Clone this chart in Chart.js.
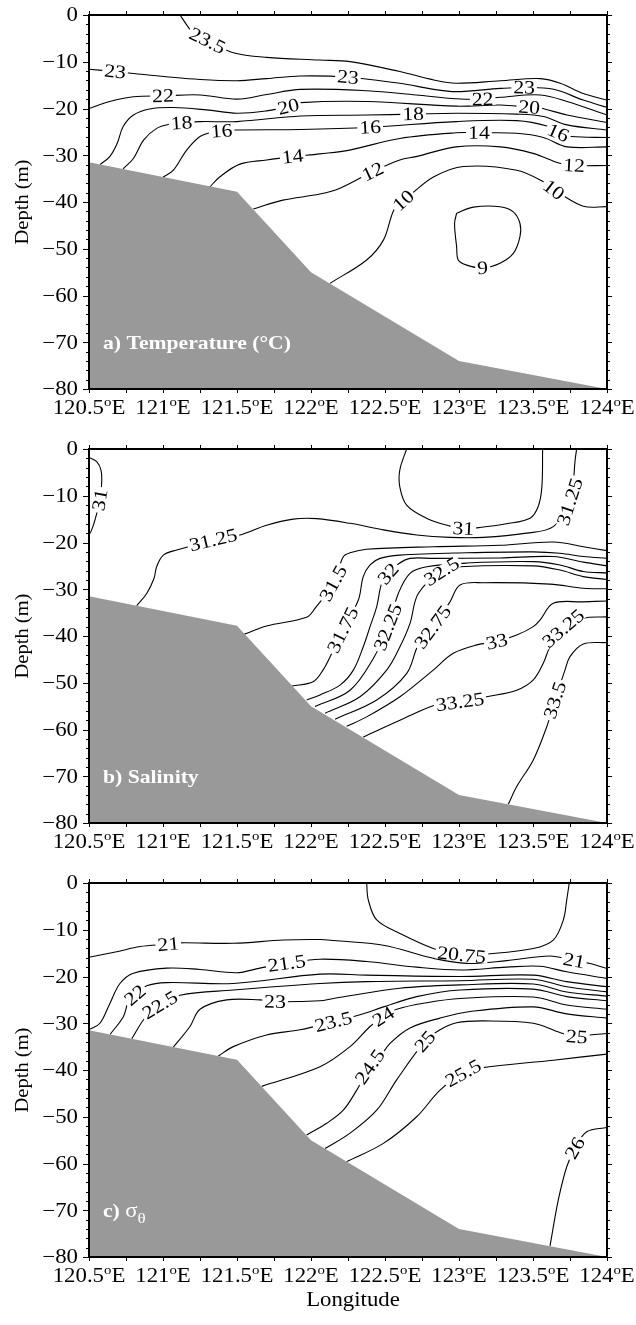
<!DOCTYPE html>
<html>
<head>
<meta charset="utf-8">
<script src="https://cdn.jsdelivr.net/npm/chart.js@4.4.0/dist/chart.umd.min.js"></script>
<style>
  html, body { margin: 0; padding: 0; background: #fff; }
  #wrap { position: relative; width: 636px; height: 1325px; }
  canvas { position: absolute; left: 0; }
</style>
</head>
<body>
<div id="wrap">
  <canvas id="panelA" width="636" height="430" style="top:0px"></canvas>
  <canvas id="panelB" width="636" height="430" style="top:434px"></canvas>
  <canvas id="panelC" width="636" height="457" style="top:868px"></canvas>
</div>
<script>
// ---- Axis ticks ----
const lonTicks = [120.5, 121, 121.5, 122, 122.5, 123, 123.5, 124];
const depthTicks = [0, -10, -20, -30, -40, -50, -60, -70, -80];

// ---- Sea-floor profile along the section (lon °E, depth m) ----
const bottomLon = [120.5, 121.5, 122.0, 123.0, 124.0];
const bottomDepth = [-31.5, -37.8, -55.0, -74.0, -80.0];

// ---- a) Temperature contours [lon, depth] ----
const T23_5 = [[121.115,0],[121.16,-2.1],[121.205,-3.9],[121.30,-5.5],[121.475,-8.06],[121.70,-9.06],[122.06,-9.63],[122.264,-9.98],[122.6,-12.1],[122.83,-13.9],[122.98,-14.6],[123.28,-14.05],[123.55,-13.6],[123.684,-14.6],[123.84,-16.8],[124.0,-18.2]];
const T23 = [[120.5,-11.6],[120.676,-12.1],[120.8,-12.5],[121.02,-13.2],[121.25,-13.8],[121.5,-14.05],[121.7,-13.6],[121.93,-13.05],[122.25,-13.3],[122.6,-14.6],[122.83,-15.9],[122.98,-16.4],[123.28,-15.7],[123.44,-15.5],[123.64,-15.9],[123.84,-18.2],[124.0,-19.75]];
const T22 = [[120.5,-20.0],[120.64,-18.5],[120.8,-17.5],[121.0,-17.3],[121.25,-17.1],[121.5,-18.0],[121.7,-17.0],[121.93,-15.9],[122.38,-16.2],[122.71,-17.1],[122.98,-17.9],[123.16,-18.0],[123.28,-17.6],[123.55,-17.1],[123.73,-18.5],[124.0,-21.4]];
const T20 = [[120.574,-32.0],[120.64,-30.3],[120.69,-27.5],[120.73,-23.9],[120.80,-21.4],[120.91,-20.1],[121.07,-19.8],[121.295,-20.3],[121.5,-21.0],[121.70,-20.5],[121.847,-19.6],[121.93,-18.75],[122.38,-18.5],[122.98,-19.5],[123.28,-19.25],[123.475,-19.75],[123.55,-19.9],[123.73,-21.4],[124.0,-23.0]];
const T18 = [[120.73,-32.9],[120.80,-30.7],[120.87,-26.7],[120.96,-24.2],[121.05,-23.3],[121.126,-23.1],[121.25,-22.8],[121.5,-22.8],[121.93,-21.6],[122.38,-21.4],[122.69,-21.2],[122.98,-21.0],[123.39,-21.2],[123.57,-21.7],[123.73,-23.5],[124.0,-24.6]];
const T16 = [[121.0,-34.7],[121.07,-33.2],[121.16,-28.9],[121.25,-26.0],[121.34,-25.0],[121.396,-24.8],[121.5,-24.6],[121.93,-24.5],[122.40,-24.0],[122.98,-22.8],[123.39,-22.6],[123.60,-23.8],[123.67,-25.2],[123.76,-26.0],[124.0,-26.2]];
const T14 = [[121.31,-37.0],[121.385,-34.6],[121.52,-31.9],[121.70,-31.0],[121.876,-30.3],[122.06,-29.7],[122.26,-28.9],[122.6,-26.4],[122.98,-25.2],[123.135,-25.2],[123.39,-25.3],[123.57,-26.2],[123.73,-28.2],[124.0,-28.2]];
const T12 = [[121.61,-41.5],[121.81,-39.6],[122.06,-38.3],[122.2,-37.0],[122.417,-33.5],[122.6,-31.0],[122.71,-30.3],[122.98,-28.2],[123.28,-28.2],[123.5,-29.6],[123.68,-31.7],[123.777,-32.2],[124.0,-32.2]];
const T10 = [[122.128,-57.4],[122.376,-52.4],[122.49,-48.1],[122.56,-41.7],[122.624,-39.7],[122.67,-38.5],[122.83,-34.6],[123.03,-32.4],[123.39,-33.2],[123.59,-36.0],[123.64,-37.4],[123.68,-38.2],[123.84,-40.9],[124.0,-41.0]];
const T9 = [[122.984,-42.4],[123.097,-41.1],[123.277,-41.0],[123.367,-42.1],[123.412,-44.6],[123.412,-47.4],[123.367,-51.0],[123.277,-53.1],[123.16,-54.1],[123.052,-53.5],[122.995,-52.4],[122.984,-49.6],[122.97,-44.6],[122.984,-42.4]];
const tempLevels = ['23.5','23','22','20','18','16','14','12','10','9'];
const tempPaths = [T23_5, T23, T22, T20, T18, T16, T14, T12, T10, T9];
// [contour index, lon, depth]
const tempLabelAt = [[0,121.30,-5.5],[1,120.676,-12.1],[1,122.25,-13.3],[1,123.44,-15.5],[2,121.0,-17.3],[2,123.16,-18.0],[3,121.847,-19.6],[3,123.475,-19.75],[4,121.126,-23.1],[4,122.69,-21.2],[5,121.396,-24.8],[5,122.40,-24.0],[5,123.67,-25.2],[6,121.876,-30.3],[6,123.135,-25.2],[7,122.417,-33.5],[7,123.777,-32.2],[8,122.624,-39.7],[8,123.64,-37.4],[9,123.16,-54.1]];

// ---- b) Salinity contours ----
const S31w = [[120.5,-1.8],[120.552,-2.7],[120.581,-4.5],[120.586,-7.0],[120.574,-10.9],[120.54,-15.2],[120.518,-17.3],[120.5,-18.4]];
const S31e = [[122.646,0],[122.6,-4.5],[122.6,-8.1],[122.646,-12.0],[122.78,-14.8],[122.94,-16.5],[123.029,-17.0],[123.14,-16.8],[123.32,-16.0],[123.48,-14.8],[123.535,-12.3],[123.56,-8.1],[123.565,0]];
const S31_25 = [[120.822,-33.5],[120.89,-30.9],[120.939,-27.7],[120.957,-25.2],[121.002,-22.7],[121.093,-21.6],[121.34,-19.5],[121.52,-18.4],[121.70,-16.3],[121.88,-15.0],[122.038,-14.9],[122.264,-15.9],[122.489,-17.3],[122.714,-18.4],[122.939,-18.9],[123.164,-18.9],[123.457,-18.0],[123.637,-16.6],[123.75,-11.3],[123.786,-2.0],[123.795,0]];
const S31_5 = [[121.55,-39.6],[121.70,-37.86],[121.97,-36.0],[122.027,-34.1],[122.151,-28.7],[122.218,-23.04],[122.264,-22.2],[122.376,-21.45],[122.826,-20.9],[123.277,-20.6],[123.637,-19.9],[123.84,-20.9],[124.0,-21.75]];
const S31_75 = [[121.872,-50.7],[122.014,-49.8],[122.081,-47.3],[122.142,-43.6],[122.216,-38.7],[122.32,-32.3],[122.353,-27.3],[122.399,-24.8],[122.466,-23.4],[122.601,-22.7],[123.052,-22.2],[123.502,-22.0],[123.682,-22.3],[123.84,-23.0],[124.0,-23.4]];
const S32 = [[121.971,-53.7],[122.061,-52.6],[122.196,-50.5],[122.286,-47.3],[122.353,-42.3],[122.399,-38.0],[122.444,-33.7],[122.478,-28.7],[122.522,-26.7],[122.59,-24.6],[122.669,-23.4],[122.826,-23.4],[123.277,-23.3],[123.637,-23.0],[123.84,-24.2],[124.0,-25.0]];
const S32_25 = [[122.027,-55.1],[122.264,-51.6],[122.421,-44.8],[122.52,-38.1],[122.59,-30.9],[122.669,-26.6],[122.782,-25.2],[123.052,-24.4],[123.502,-24.1],[123.682,-24.8],[123.84,-26.2],[124.0,-26.5]];
const S32_5 = [[122.095,-56.5],[122.331,-53.0],[122.511,-47.3],[122.601,-42.3],[122.669,-37.3],[122.725,-30.9],[122.883,-26.2],[123.007,-25.2],[123.502,-25.0],[123.682,-25.9],[123.84,-27.3],[124.0,-27.9]];
const S32_75 = [[122.162,-57.8],[122.444,-53.7],[122.647,-48.0],[122.725,-41.9],[122.824,-38.1],[122.939,-32.7],[123.007,-29.1],[123.164,-28.6],[123.615,-28.9],[123.84,-29.8],[124.0,-29.9]];
const S33 = [[122.241,-59.3],[122.376,-57.3],[122.601,-53.0],[122.826,-47.3],[122.961,-43.7],[123.12,-41.9],[123.255,-41.2],[123.39,-39.8],[123.502,-38.0],[123.547,-36.6],[123.637,-33.0],[123.84,-32.7],[124.0,-32.5]];
const S33_25 = [[122.353,-61.6],[122.601,-58.0],[122.872,-54.4],[123.007,-54.1],[123.187,-53.0],[123.39,-51.6],[123.502,-49.4],[123.57,-45.8],[123.615,-42.3],[123.705,-38.4],[123.84,-36.2],[124.0,-35.9]];
const S33_5 = [[123.333,-76.0],[123.39,-72.2],[123.502,-66.5],[123.593,-59.4],[123.649,-53.7],[123.716,-47.3],[123.75,-44.4],[123.84,-41.7],[124.0,-41.4]];
const salLevels = ['31','31','31.25','31.5','31.75','32','32.25','32.5','32.75','33','33.25','33.5'];
const salPaths = [S31w, S31e, S31_25, S31_5, S31_75, S32, S32_25, S32_5, S32_75, S33, S33_25, S33_5];
const salLabelAt = [[0,120.574,-10.9],[1,123.029,-17.0],[2,121.34,-19.5],[2,123.75,-11.3],[3,122.151,-28.7],[4,122.216,-38.7],[5,122.522,-26.7],[6,122.52,-38.1],[7,122.883,-26.2],[8,122.824,-38.1],[9,123.255,-41.2],[10,123.007,-54.1],[10,123.705,-38.4],[11,123.649,-53.7]];

// ---- c) Potential density anomaly contours ----
const D20_75 = [[122.376,0],[122.387,-3.6],[122.444,-7.9],[122.601,-10.8],[122.826,-14.0],[123.018,-15.4],[123.187,-15.2],[123.502,-14.0],[123.637,-12.2],[123.705,-7.9],[123.728,-3.6],[123.745,0]];
const D21 = [[120.5,-15.9],[120.687,-14.7],[120.845,-13.6],[121.036,-13.1],[121.115,-12.8],[121.475,-12.9],[121.813,-12.2],[122.061,-12.1],[122.151,-12.3],[122.489,-13.3],[122.826,-16.1],[123.052,-17.2],[123.322,-16.6],[123.615,-15.6],[123.777,-16.6],[123.885,-17.2],[124.0,-18.3]];
const D21_5 = [[120.5,-31.4],[120.574,-30.0],[120.642,-25.7],[120.709,-21.5],[120.8,-19.3],[121.025,-18.2],[121.25,-18.5],[121.498,-19.2],[121.655,-18.2],[121.836,-17.2],[122.061,-16.3],[122.376,-16.8],[122.714,-18.0],[123.007,-18.6],[123.322,-18.0],[123.547,-17.8],[123.728,-19.0],[124.0,-20.4]];
const D22 = [[120.642,-32.4],[120.732,-28.6],[120.766,-25.4],[120.811,-24.0],[120.89,-22.0],[121.025,-21.3],[121.475,-21.5],[122.061,-19.5],[122.376,-19.7],[123.007,-20.0],[123.502,-19.7],[123.728,-21.1],[124.0,-22.2]];
const D22_5 = [[120.789,-33.3],[120.867,-29.3],[120.912,-27.9],[120.98,-26.1],[121.115,-24.0],[121.475,-22.9],[122.061,-21.5],[122.376,-21.1],[123.007,-20.9],[123.502,-20.6],[123.728,-22.2],[124.0,-23.3]];
const D23 = [[121.07,-35.1],[121.182,-30.7],[121.25,-27.0],[121.43,-25.0],[121.655,-25.0],[121.757,-25.4],[122.061,-25.2],[122.151,-24.7],[122.601,-22.5],[123.007,-21.8],[123.502,-21.6],[123.728,-23.3],[124.0,-24.2]];
const D23_5 = [[121.374,-37.0],[121.475,-35.0],[121.70,-32.5],[121.926,-31.4],[122.151,-29.7],[122.331,-28.2],[122.489,-26.5],[122.714,-24.3],[123.007,-22.9],[123.502,-22.7],[123.728,-24.3],[124.0,-25.2]];
const D24 = [[121.667,-43.5],[122.061,-39.3],[122.264,-35.0],[122.399,-30.7],[122.489,-28.6],[122.579,-27.0],[122.782,-25.6],[123.007,-24.7],[123.502,-24.4],[123.728,-26.1],[124.0,-27.0]];
const D24_5 = [[121.971,-53.9],[122.106,-51.4],[122.218,-48.6],[122.309,-44.3],[122.399,-39.3],[122.466,-37.2],[122.534,-34.3],[122.669,-31.0],[122.872,-28.9],[123.074,-27.5],[123.502,-26.5],[123.728,-28.0],[124.0,-28.9]];
const D25 = [[122.095,-56.8],[122.264,-53.5],[122.444,-48.6],[122.579,-42.1],[122.77,-33.9],[122.872,-31.4],[122.984,-29.9],[123.164,-29.5],[123.502,-30.0],[123.682,-32.0],[123.795,-32.9],[123.885,-32.5],[124.0,-32.2]];
const D25_5 = [[122.241,-59.6],[122.489,-55.7],[122.714,-50.0],[122.872,-44.3],[123.029,-40.7],[123.142,-39.6],[123.637,-37.9],[124.0,-36.6]];
const D26 = [[123.615,-77.6],[123.671,-67.8],[123.728,-60.7],[123.784,-56.7],[123.863,-53.2],[124.0,-52.3]];
const denLevels = ['20.75','21','21.5','22','22.5','23','23.5','24','24.5','25','25.5','26'];
const denPaths = [D20_75, D21, D21_5, D22, D22_5, D23, D23_5, D24, D24_5, D25, D25_5, D26];
const denLabelAt = [[0,123.018,-15.4],[1,121.036,-13.1],[1,123.777,-16.6],[2,121.836,-17.2],[3,120.811,-24.0],[4,120.98,-26.1],[5,121.757,-25.4],[6,122.151,-29.7],[7,122.489,-28.6],[8,122.399,-39.3],[9,122.77,-33.9],[9,123.795,-32.9],[10,123.029,-40.7],[11,123.784,-56.7]];

// ---- drawing helpers ----
const SERIF = '"Liberation Serif", "Times New Roman", serif';
const SX = 1.14;            // horizontal stretch of the lettering

function textW(ctx, s) { return ctx.measureText(s).width * SX; }

function drawText(ctx, s, x, y, align) {
  const w = textW(ctx, s);
  let x0 = x;
  if (align === 'right') x0 = x - w;
  else if (align === 'center') x0 = x - w / 2;
  ctx.save();
  ctx.translate(x0, y);
  ctx.scale(SX, 1);
  ctx.textAlign = 'left';
  ctx.fillText(s, 0, 0);
  ctx.restore();
  return w;
}

function pathAngle(path, lon, dep, xs, ys) {
  const px = lon => xs.getPixelForValue(lon), py = d => ys.getPixelForValue(d);
  const tx = px(lon), ty = py(dep);
  let best = 0, bd = Infinity;
  path.forEach(([x, y], i) => {
    const dx = px(x) - tx, dy = py(y) - ty, d = dx * dx + dy * dy;
    if (d < bd) { bd = d; best = i; }
  });
  const a = path[Math.max(0, best - 1)], b = path[Math.min(path.length - 1, best + 1)];
  let ang = Math.atan2(py(b[1]) - py(a[1]), px(b[0]) - px(a[0]));
  if (ang > Math.PI / 2) ang -= Math.PI;
  if (ang < -Math.PI / 2) ang += Math.PI;
  return ang;
}

// contour labels with a white gap cut into the line
const contourLabels = {
  id: 'contourLabels',
  afterDatasetsDraw(chart, args, opts) {
    const { ctx, scales: { x, y } } = chart;
    ctx.save();
    ctx.font = '19px ' + SERIF;
    ctx.textBaseline = 'middle';
    opts.at.forEach(([k, lon, dep]) => {
      const s = opts.levels[k];
      const ang = pathAngle(opts.paths[k], lon, dep, x, y);
      const w = textW(ctx, s);
      ctx.save();
      ctx.translate(x.getPixelForValue(lon), y.getPixelForValue(dep));
      ctx.rotate(ang);
      ctx.fillStyle = '#fff';
      ctx.fillRect(-w / 2 - 2, -6, w + 4, 12);
      ctx.fillStyle = '#000';
      drawText(ctx, s, 0, 1, 'center');
      ctx.restore();
    });
    ctx.restore();
  }
};

// frame, ticks, tick labels, axis titles and panel caption
const sectionFrame = {
  id: 'sectionFrame',
  afterDraw(chart, args, opts) {
    const { ctx, chartArea: { left, right, top, bottom }, scales: { x, y } } = chart;
    ctx.save();
    ctx.strokeStyle = '#000';
    ctx.fillStyle = '#000';
    ctx.lineWidth = 1;
    ctx.beginPath();
    for (let d = 0; d >= -80; d -= 2) {
      const py = Math.round(y.getPixelForValue(d)) + 0.5;
      const major = d % 10 === 0;
      ctx.moveTo(left - (major ? 6 : 3), py); ctx.lineTo(left, py);
      ctx.moveTo(right, py); ctx.lineTo(right + (major ? 5 : 3), py);
    }
    for (let lon = 120.5; lon <= 124.001; lon += 0.25) {
      const px = Math.round(x.getPixelForValue(lon)) + 0.5;
      ctx.moveTo(px, top - 4); ctx.lineTo(px, top);
      ctx.moveTo(px, bottom); ctx.lineTo(px, bottom + 4);
    }
    ctx.stroke();
    ctx.lineWidth = 2;
    ctx.strokeRect(left, top, right - left, bottom - top);

    // depth tick labels
    ctx.font = '20px ' + SERIF;
    ctx.textBaseline = 'middle';
    depthTicks.forEach(d => {
      const s = d === 0 ? '0' : '\u2212' + Math.abs(d);
      drawText(ctx, s, left - 11, y.getPixelForValue(d) + 1, 'right');
    });
    // longitude tick labels: 120.5°E with raised "o"
    ctx.textBaseline = 'alphabetic';
    lonTicks.forEach(lon => {
      const num = String(lon);
      ctx.font = '20px ' + SERIF;
      const wn = textW(ctx, num), we = textW(ctx, 'E');
      ctx.font = '13px ' + SERIF;
      const wo = textW(ctx, 'o');
      const cx = x.getPixelForValue(lon);
      let x0 = cx - (wn + wo + we) / 2;
      const base = bottom + 25;
      ctx.font = '20px ' + SERIF;
      drawText(ctx, num, x0, base, 'left');
      ctx.font = '13px ' + SERIF;
      drawText(ctx, 'o', x0 + wn, base - 8, 'left');
      ctx.font = '20px ' + SERIF;
      drawText(ctx, 'E', x0 + wn + wo, base, 'left');
    });

    // Depth axis title
    ctx.save();
    ctx.translate(28, (top + bottom) / 2);
    ctx.rotate(-Math.PI / 2);
    ctx.font = '18px ' + SERIF;
    ctx.textBaseline = 'alphabetic';
    drawText(ctx, 'Depth (m)', 0, 0, 'center');
    ctx.restore();

    if (opts.xTitle) {
      ctx.font = '20px ' + SERIF;
      drawText(ctx, opts.xTitle, (left + right) / 2 + 5, bottom + 49, 'center');
    }

    // panel caption in white on the sea floor
    ctx.fillStyle = '#fff';
    const cx0 = left + 14, cy0 = top + 334;
    ctx.font = 'bold 19px ' + SERIF;
    let xx = cx0 + drawText(ctx, opts.caption[0], cx0, cy0, 'left');
    if (opts.caption[1]) {
      ctx.font = '20px ' + SERIF;
      xx += drawText(ctx, opts.caption[1], xx, cy0, 'left');
    }
    if (opts.caption[2]) {
      ctx.font = '15px ' + SERIF;
      drawText(ctx, opts.caption[2], xx, cy0 + 6, 'left');
    }
    ctx.restore();
  }
};

function buildSection(id, levels, paths, labelAt, caption, padBottom, xTitle) {
  const datasets = [{
    data: bottomLon.map((lon, i) => ({ x: lon, y: bottomDepth[i] })),
    showLine: true, fill: 'start', backgroundColor: '#999999',
    borderColor: '#999999', borderWidth: 0, pointRadius: 0, tension: 0, order: 0
  }];
  paths.forEach(p => datasets.push({
    data: p.map(([lon, d]) => ({ x: lon, y: d })),
    showLine: true, fill: false, borderColor: '#000', borderWidth: 1.1,
    pointRadius: 0, tension: 0.35, order: 1
  }));
  return new Chart(document.getElementById(id), {
    type: 'scatter',
    data: { datasets },
    options: {
      responsive: false, animation: false, events: [],
      layout: { padding: { left: 89, right: 29, top: 15, bottom: padBottom } },
      scales: {
        x: { type: 'linear', min: 120.5, max: 124, display: false },
        y: { type: 'linear', min: -80, max: 0, display: false }
      },
      plugins: {
        legend: { display: false }, tooltip: { enabled: false },
        contourLabels: { levels, paths, at: labelAt },
        sectionFrame: { caption, xTitle }
      }
    },
    plugins: [contourLabels, sectionFrame]
  });
}

buildSection('panelA', tempLevels, tempPaths, tempLabelAt, ['a) Temperature (\u00B0C)'], 41, null);
buildSection('panelB', salLevels, salPaths, salLabelAt, ['b) Salinity'], 41, null);
buildSection('panelC', denLevels, denPaths, denLabelAt, ['c) ', '\u03C3', '\u03B8'], 68, 'Longitude');
</script>
</body>
</html>
